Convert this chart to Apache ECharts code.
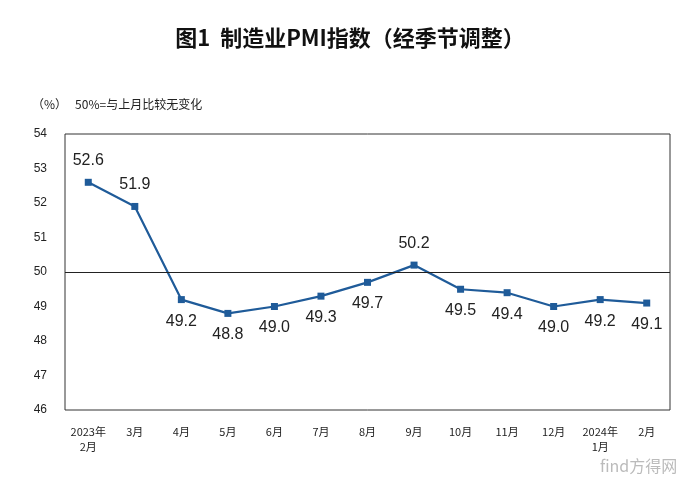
<!DOCTYPE html>
<html><head><meta charset="utf-8">
<script src="https://cdn.jsdelivr.net/npm/echarts@6/dist/echarts.min.js"></script>
<style>html,body{margin:0;background:#fff}#c{width:700px;height:485px}</style>
</head><body><div id="c"></div>
<script>
const categories=['2023年\n2月','3月','4月','5月','6月','7月','8月','9月','10月','11月','12月','2024年\n1月','2月'];
const pmi=[52.6,51.9,49.2,48.8,49.0,49.3,49.7,50.2,49.5,49.4,49.0,49.2,49.1];
const labelPos=['top','top','bottom','bottom','bottom','bottom','bottom','top','bottom','bottom','bottom','bottom','bottom'];
const ch=echarts.init(document.getElementById('c'));
ch.setOption({
  animation:false,
  title:{text:'图1  制造业PMI指数（经季节调整）',left:'center',top:22,textStyle:{fontFamily:'Noto Sans CJK SC',fontWeight:'bold',fontSize:22,color:'#111'}},
  graphic:[
    {type:'text',left:32,top:98,style:{text:'（%）   50%=与上月比较无变化',font:'12px "Noto Sans CJK SC"',fill:'#222'}},
    {type:'text',left:600,top:458,style:{text:'find方得网',font:'16px "Noto Sans CJK SC"',fill:'#bbb'}}
  ],
  grid:{left:65,right:30,top:134,bottom:75,show:true,borderColor:'#333',borderWidth:1},
  xAxis:{type:'category',data:categories,boundaryGap:true,axisLine:{show:false},axisTick:{show:false},
    axisLabel:{fontSize:11,color:'#222',margin:14,lineHeight:15,fontFamily:'Noto Sans CJK SC'}},
  yAxis:{type:'value',min:46,max:54,interval:1,axisLine:{show:false},axisTick:{show:false},splitLine:{show:false},
    axisLabel:{fontSize:12,color:'#222',margin:18}},
  series:[{type:'line',data:pmi.map((v,i)=>({value:v,label:{position:labelPos[i]}})),symbol:'rect',symbolSize:7,
    lineStyle:{color:'#1f5b99',width:2.2},itemStyle:{color:'#1f5b99'},
    label:{show:true,fontSize:16,color:'#222',distance:10,formatter:p=>p.value.toFixed(1)},
    markLine:{silent:true,symbol:'none',label:{show:false},lineStyle:{color:'#222',type:'solid',width:1.2},data:[{yAxis:50}]}}]
});
</script></body></html>
